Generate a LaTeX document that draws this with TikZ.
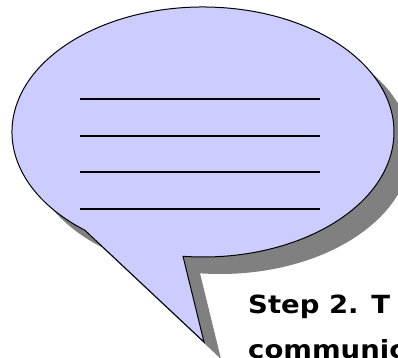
\documentclass[tikz,border=0pt]{standalone}
\usepackage{fontspec}
\setmainfont{DejaVu Sans}
\newfontfamily\stepfont[FakeStretch=1.1]{DejaVu Sans}
\usepackage{xcolor}
\definecolor{bubblefill}{RGB}{204,204,255}
\definecolor{bubbleshadow}{RGB}{128,128,128}
\tikzset{
  bubble/.style={draw=black,line width=1pt,fill=bubblefill},
  bubbleshade/.style={fill=bubbleshadow},
  writeline/.style={draw=black,line width=1.7pt},
  steptext/.style={font=\stepfont\fontsize{25}{43}\selectfont\bfseries,anchor=base west,inner sep=0pt}
}

\begin{document}
\begin{tikzpicture}[x=1pt,y=1pt]
  \useasboundingbox (0,0) rectangle (398,357);
  \clip (0,0) rectangle (398,357);
  % shadow of the speech bubble
  \fill[bubbleshade,shift={(17,-17)}] (204,15) -- (183,100.7)
    arc[start angle=264,end angle=591.8,x radius=191pt,y radius=125pt] -- cycle;
  \path[bubble] (204,15) -- (183,100.7)
    arc[start angle=264,end angle=591.8,x radius=191pt,y radius=125pt] -- cycle;
  \foreach \ly in {257.7,220.7,184.7,147.7}
    \draw[writeline] (80,\ly) -- (320,\ly);
  \node[steptext] (stepline) at (248,44) {Step 2. T};
  \node[steptext] (commline) at (248,-1) {communica};
\end{tikzpicture}
\end{document}
